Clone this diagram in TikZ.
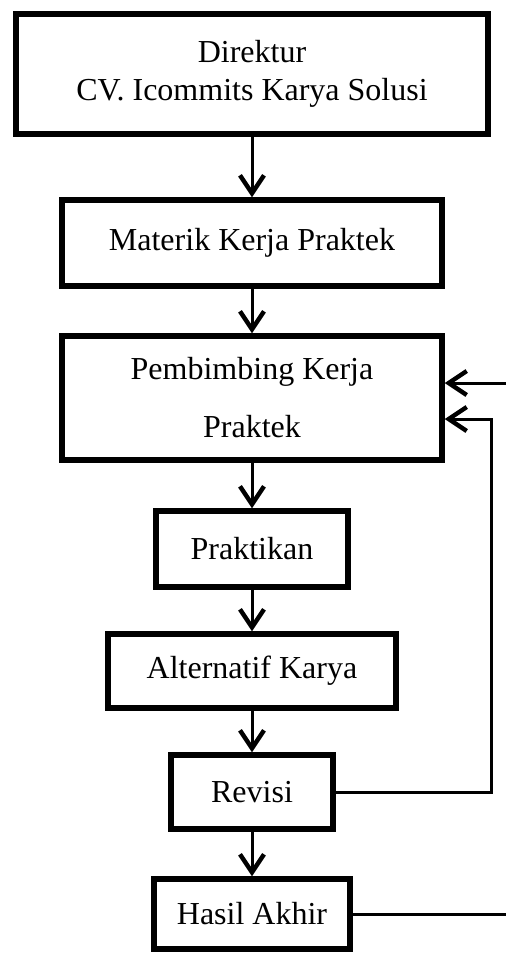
\documentclass[tikz,border=0pt]{standalone}
\usepackage{fontspec}
\setmainfont{Liberation Serif}
\usepackage{tikz}
\usetikzlibrary{arrows.meta,positioning,calc}
\tikzstyle{arrow}=[draw,-{Straight Barb[length=9pt,width=12pt,line width=2.2pt]},line width=1.5pt]
\tikzstyle{line}=[draw,line width=1.5pt]
\tikzstyle{block} =
  [rectangle, draw, line width=2.75pt, align=center, inner sep=0pt,
   font=\fontsize{16}{19}\selectfont]

\begin{document}
\begin{tikzpicture}[node distance = 61pt]
  \useasboundingbox (0,0) rectangle (253pt,-477.5pt);
  \node [block, minimum width=236pt, minimum height=60pt] (dir) at (126pt,-37pt)
    {Direktur\\CV. Icommits Karya Solusi};
  \node [block, below of=dir, node distance=84.5pt, minimum width=190pt,
    minimum height=43pt] (mkp) {Materik Kerja Praktek};
  \node [block, below of=mkp, node distance=77.5pt, minimum width=190pt,
    minimum height=62pt] (pkp) {Pembimbing Kerja\\[10pt]Praktek};
  \node [block, below of=pkp, node distance=75.5pt, minimum width=96pt,
    minimum height=38pt] (prak) {Praktikan};
  \node [block, below of=prak, minimum width=144pt, minimum height=37pt] (alt)
    {Alternatif Karya};
  \node [block, below of=alt, node distance=60.5pt, minimum width=81pt,
    minimum height=37pt] (rev) {Revisi};
  \node [block, below of=rev, minimum width=98pt, minimum height=35pt] (has)
    {Hasil Akhir};

  \draw [arrow] (dir) -- (mkp);
  \draw [arrow] (mkp) -- (pkp);
  \draw [arrow] (pkp) -- (prak);
  \draw [arrow] (prak) -- (alt);
  \draw [arrow] (alt) -- (rev);
  \draw [arrow] (rev) -- (has);

  % feedback on the right
  \coordinate (in1) at (253pt,-191.5pt);
  \coordinate (fb) at (245.5pt,-209.5pt);
  \draw [arrow] (in1) -- (in1 -| pkp.east);
  \draw [arrow] (rev.east) -| (fb) -- (fb -| pkp.east);
  \draw [line] (has.east) -- (has.east -| in1);
\end{tikzpicture}
\end{document}
